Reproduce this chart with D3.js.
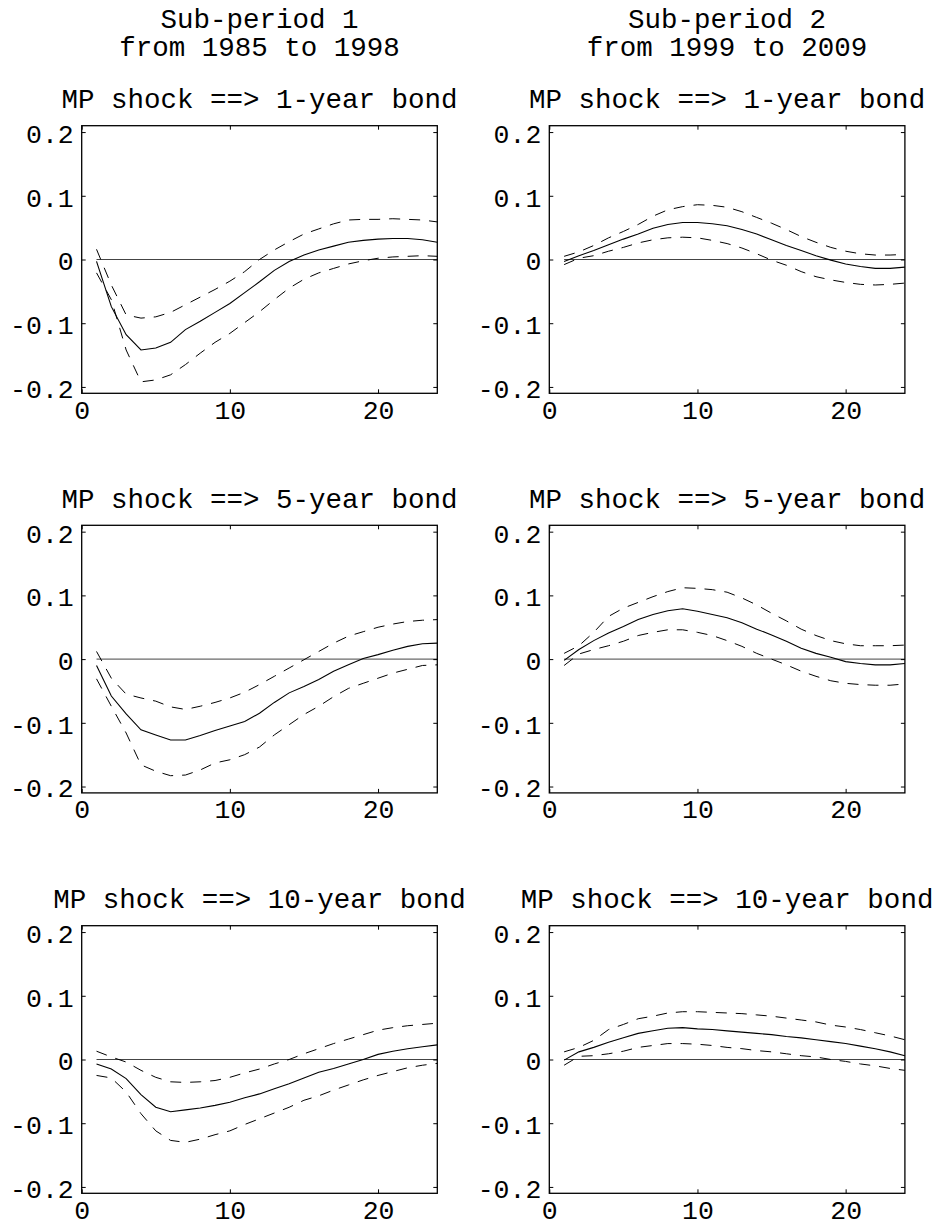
<!DOCTYPE html>
<html>
<head>
<meta charset="utf-8">
<script src="https://cdn.jsdelivr.net/npm/d3@7"></script>
<style>
  html, body { margin: 0; padding: 0; background: #ffffff; }
  svg text { font-family: "Liberation Mono", "DejaVu Sans Mono", monospace; fill: #000; }
</style>
</head>
<body>
<svg id="chart" width="943" height="1227"></svg>
<script>
// ---- data ----
const horizons = d3.range(1, 25);
const xTicks = [0, 10, 20];
const yTicks = [-0.2, -0.1, 0, 0.1, 0.2];
const yTickLabels = ["-0.2", "-0.1", "0", "0.1", "0.2"];
const columnTitles = [["Sub-period 1", "from 1985 to 1998"], ["Sub-period 2", "from 1999 to 2009"]];
const panelTitles = ["MP shock ==> 1-year bond", "MP shock ==> 5-year bond", "MP shock ==> 10-year bond"];

// Sub-period 1, 1-year bond
const s1b1Est = [-0.003,-0.074,-0.118,-0.142,-0.139,-0.130,-0.110,-0.097,-0.083,-0.069,-0.052,-0.035,-0.017,-0.003,0.007,0.015,0.021,0.027,0.030,0.032,0.033,0.033,0.031,0.027];
const s1b1Up  = [0.016,-0.040,-0.087,-0.092,-0.090,-0.083,-0.071,-0.059,-0.047,-0.034,-0.019,0.000,0.015,0.028,0.040,0.048,0.056,0.062,0.063,0.063,0.064,0.063,0.062,0.059];
const s1b1Lo  = [-0.021,-0.063,-0.142,-0.192,-0.189,-0.181,-0.165,-0.147,-0.130,-0.116,-0.099,-0.082,-0.063,-0.045,-0.031,-0.021,-0.014,-0.007,-0.002,0.002,0.004,0.005,0.006,0.005];
// Sub-period 2, 1-year bond
const s2b1Est = [-0.003,0.006,0.014,0.023,0.032,0.040,0.049,0.055,0.058,0.058,0.056,0.053,0.047,0.040,0.031,0.022,0.014,0.006,-0.001,-0.007,-0.011,-0.014,-0.014,-0.012];
const s2b1Up  = [0.005,0.012,0.022,0.034,0.044,0.055,0.068,0.078,0.083,0.086,0.085,0.082,0.075,0.066,0.057,0.047,0.036,0.027,0.019,0.013,0.009,0.007,0.007,0.008];
const s2b1Lo  = [-0.008,0.002,0.006,0.013,0.019,0.026,0.031,0.034,0.035,0.034,0.030,0.025,0.018,0.009,-0.001,-0.009,-0.019,-0.027,-0.032,-0.036,-0.039,-0.040,-0.039,-0.037];
// Sub-period 1, 5-year bond
const s1b5Est = [-0.010,-0.058,-0.086,-0.111,-0.119,-0.127,-0.127,-0.120,-0.112,-0.105,-0.098,-0.085,-0.068,-0.053,-0.043,-0.032,-0.019,-0.009,0.001,0.007,0.014,0.020,0.024,0.025];
const s1b5Up  = [0.012,-0.030,-0.055,-0.061,-0.066,-0.075,-0.079,-0.074,-0.068,-0.061,-0.052,-0.040,-0.027,-0.014,-0.001,0.012,0.025,0.036,0.043,0.050,0.055,0.059,0.061,0.062];
const s1b5Lo  = [-0.031,-0.074,-0.116,-0.166,-0.176,-0.183,-0.182,-0.174,-0.163,-0.158,-0.150,-0.138,-0.119,-0.103,-0.087,-0.074,-0.059,-0.046,-0.038,-0.030,-0.022,-0.016,-0.010,-0.009];
// Sub-period 2, 5-year bond
const s2b5Est = [-0.002,0.015,0.029,0.041,0.051,0.062,0.070,0.076,0.079,0.075,0.070,0.065,0.057,0.047,0.038,0.028,0.017,0.009,0.003,-0.004,-0.007,-0.009,-0.009,-0.007];
const s2b5Up  = [0.009,0.021,0.042,0.067,0.080,0.089,0.098,0.106,0.112,0.111,0.109,0.105,0.096,0.085,0.072,0.060,0.047,0.037,0.029,0.024,0.021,0.021,0.021,0.022];
const s2b5Lo  = [-0.010,0.008,0.015,0.021,0.028,0.037,0.042,0.046,0.046,0.042,0.037,0.029,0.020,0.009,0.000,-0.009,-0.019,-0.027,-0.034,-0.038,-0.040,-0.041,-0.041,-0.039];
// Sub-period 1, 10-year bond
const s1b10Est = [-0.007,-0.015,-0.030,-0.055,-0.075,-0.082,-0.079,-0.076,-0.072,-0.067,-0.060,-0.054,-0.046,-0.038,-0.029,-0.020,-0.014,-0.007,0.000,0.008,0.013,0.017,0.020,0.023];
const s1b10Up  = [0.013,0.004,-0.004,-0.017,-0.028,-0.035,-0.036,-0.035,-0.033,-0.028,-0.021,-0.015,-0.007,0.000,0.009,0.017,0.025,0.032,0.039,0.046,0.050,0.053,0.055,0.057];
const s1b10Lo  = [-0.025,-0.029,-0.051,-0.085,-0.112,-0.127,-0.130,-0.125,-0.118,-0.112,-0.102,-0.093,-0.084,-0.075,-0.064,-0.057,-0.048,-0.040,-0.032,-0.025,-0.019,-0.013,-0.009,-0.006];
// Sub-period 2, 10-year bond
const s2b10Est = [-0.001,0.012,0.019,0.027,0.034,0.041,0.045,0.049,0.050,0.048,0.047,0.045,0.043,0.041,0.039,0.036,0.034,0.031,0.028,0.025,0.021,0.017,0.012,0.006];
const s2b10Up  = [0.012,0.019,0.030,0.047,0.055,0.064,0.068,0.073,0.075,0.075,0.074,0.073,0.072,0.070,0.068,0.065,0.062,0.059,0.054,0.051,0.047,0.042,0.037,0.031];
const s2b10Lo  = [-0.009,0.005,0.006,0.009,0.013,0.019,0.022,0.025,0.025,0.024,0.022,0.019,0.017,0.014,0.012,0.009,0.006,0.004,0.000,-0.003,-0.007,-0.010,-0.014,-0.017];

const panels = [
  {row: 0, col: 0, est: s1b1Est, up: s1b1Up, lo: s1b1Lo},
  {row: 0, col: 1, est: s2b1Est, up: s2b1Up, lo: s2b1Lo},
  {row: 1, col: 0, est: s1b5Est, up: s1b5Up, lo: s1b5Lo},
  {row: 1, col: 1, est: s2b5Est, up: s2b5Up, lo: s2b5Lo},
  {row: 2, col: 0, est: s1b10Est, up: s1b10Up, lo: s1b10Lo},
  {row: 2, col: 1, est: s2b10Est, up: s2b10Up, lo: s2b10Lo}
];

// ---- layout ----
const colLeft = [81.7, 549.3];
const plotW = 355.6;
const rowTop = [125.7, 525.3, 925.7];
const plotH = 267.6;
const FS = 27.5;
const TFS = 26.5;

const svg = d3.select("#chart");

// column headers
columnTitles.forEach((lines, c) => {
  const cx = colLeft[c] + plotW / 2;
  svg.append("text").attr("x", cx).attr("y", 28).attr("text-anchor", "middle")
    .style("font-size", FS + "px").text(lines[0]);
  svg.append("text").attr("x", cx).attr("y", 56).attr("text-anchor", "middle")
    .style("font-size", FS + "px").text(lines[1]);
});

panels.forEach(p => {
  const x0 = colLeft[p.col], y0 = rowTop[p.row];
  const g = svg.append("g").attr("transform", `translate(${x0},${y0})`);
  const x = d3.scaleLinear().domain([0, 24]).range([0, plotW]);
  const y = d3.scaleLinear().domain([-0.21, 0.21]).range([plotH, 0]);

  // title
  g.append("text").attr("x", plotW / 2).attr("y", -17.5).attr("text-anchor", "middle")
    .style("font-size", FS + "px").text(panelTitles[p.row]);

  // zero line
  g.append("line").attr("x1", x(1)).attr("x2", x(24)).attr("y1", y(0)).attr("y2", y(0))
    .attr("stroke", "#444").attr("stroke-width", 1);

  const line = d3.line().x((d, i) => x(horizons[i])).y(d => y(d));
  g.append("path").datum(p.up).attr("d", line).attr("fill", "none")
    .attr("stroke", "#000").attr("stroke-width", 1).attr("stroke-dasharray", "11,9");
  g.append("path").datum(p.lo).attr("d", line).attr("fill", "none")
    .attr("stroke", "#000").attr("stroke-width", 1).attr("stroke-dasharray", "11,9");
  g.append("path").datum(p.est).attr("d", line).attr("fill", "none")
    .attr("stroke", "#000").attr("stroke-width", 1.1);

  // axes
  const ax = g.append("g").attr("transform", `translate(0,${plotH})`)
    .call(d3.axisBottom(x).tickValues(xTicks).tickSize(-4).tickPadding(0).tickSizeOuter(0).tickFormat(d3.format("d")));
  ax.selectAll("text").attr("y", 25.5).attr("dy", null).style("font-size", TFS + "px");
  const ay = g.append("g")
    .call(d3.axisLeft(y).tickValues(yTicks).tickSize(-4).tickPadding(8).tickSizeOuter(0)
      .tickFormat((d, i) => yTickLabels[i]));
  ay.selectAll("text").attr("dy", "0.39em").style("font-size", TFS + "px");
  const at = g.append("g").call(d3.axisTop(x).tickValues(xTicks).tickSize(-4).tickSizeOuter(0).tickFormat(""));
  const ar = g.append("g").attr("transform", `translate(${plotW},0)`)
    .call(d3.axisRight(y).tickValues(yTicks).tickSize(-4).tickSizeOuter(0).tickFormat(""));
  [ax, ay, at, ar].forEach(a => {
    a.selectAll("path.domain").remove();
    a.selectAll(".tick line").attr("stroke", "#000").attr("stroke-width", 1);
  });
  // box
  g.append("rect").attr("x", 0).attr("y", 0).attr("width", plotW).attr("height", plotH)
    .attr("fill", "none").attr("stroke", "#000").attr("stroke-width", 1.3);
});
</script>
</body>
</html>
